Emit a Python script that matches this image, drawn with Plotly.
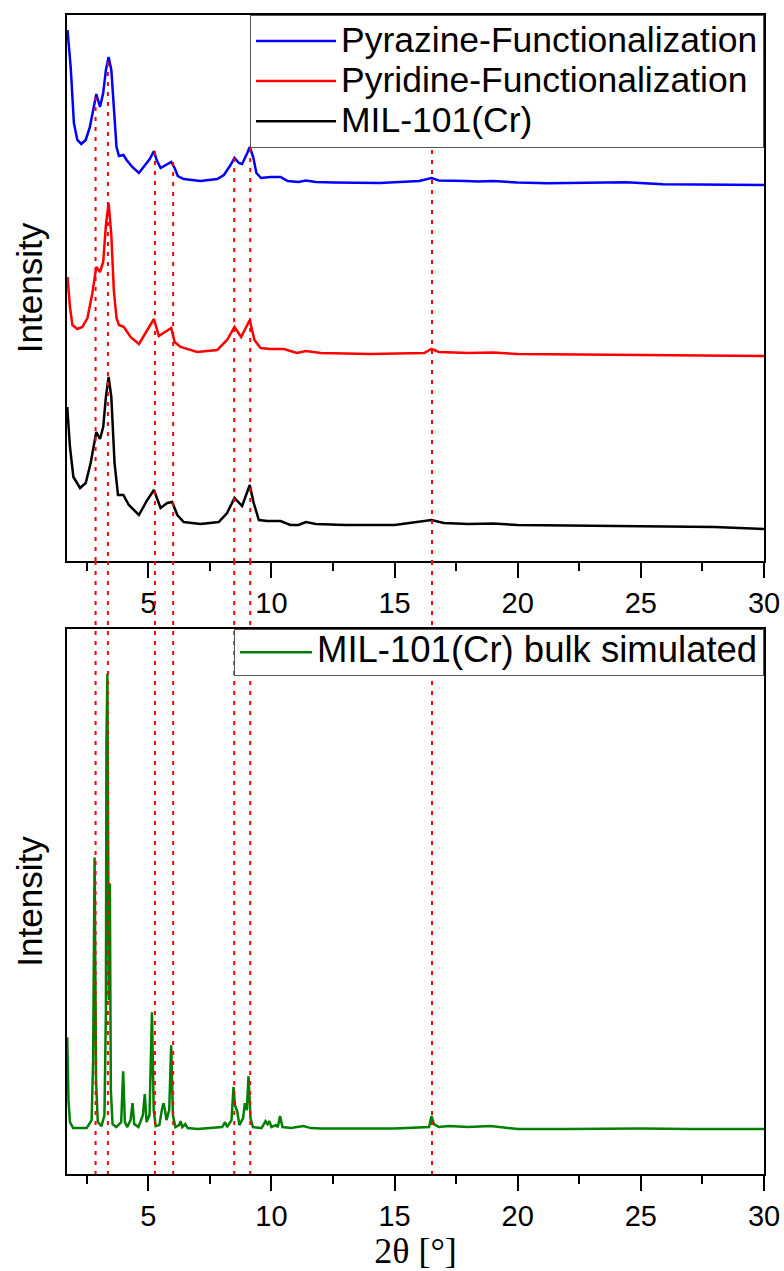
import plotly.graph_objects as go

# ---------------- data ----------------
# Top panel: measured patterns (intensity in arbitrary units)
tt_pyrazine = [1.72, 1.85, 1.98, 2.12, 2.28, 2.46, 2.63, 2.77, 2.89, 3.04, 3.17, 3.28, 3.39, 3.50,
               3.60, 3.71, 3.81, 3.99, 4.12, 4.35, 4.62, 4.82, 5.06, 5.23, 5.34, 5.50, 5.70, 5.93,
               6.07, 6.20, 6.44, 7.12, 7.80, 8.07, 8.34, 8.50, 8.68, 8.81, 9.02, 9.12, 9.26, 9.39,
               9.58, 9.96, 10.37, 10.66, 11.10, 11.40, 11.80, 12.50, 14.40, 16.00, 16.50, 16.80,
               17.90, 18.40, 19.00, 20.00, 21.20, 24.40, 25.90, 28.00, 30.00]
int_pyrazine = [531, 494, 438, 421, 417, 421, 434, 454, 467, 454, 468, 491, 504, 491,
                451, 414, 405, 406, 401, 394, 388, 394, 402, 410, 401, 393, 396, 399,
                393, 385, 382, 380, 382, 386, 396, 403, 398, 397, 408, 414, 404, 388,
                383, 384, 384, 380, 379, 380.5, 379, 378.5, 378, 380, 383, 380.5,
                380, 379.5, 380, 378.5, 377.7, 378.7, 376.7, 376.5, 376]

tt_pyridine = [1.72, 1.82, 1.92, 2.12, 2.32, 2.53, 2.73, 2.89, 3.04, 3.17, 3.28, 3.39, 3.50,
               3.60, 3.71, 3.81, 4.01, 4.28, 4.62, 4.96, 5.23, 5.43, 5.70, 5.93, 6.07, 6.31,
               6.99, 7.80, 8.20, 8.50, 8.77, 9.12, 9.31, 9.56, 9.96, 10.50, 11.04, 11.40,
               12.00, 14.00, 16.20, 16.50, 16.80, 18.00, 19.00, 20.00, 25.00, 30.00]
int_pyridine = [284, 254, 236, 232, 234, 243, 268, 294, 289, 299, 336, 358, 326,
                271, 243, 236, 234, 224, 217, 231, 242, 225, 229, 233, 219, 214,
                209, 211, 221, 234, 224, 241, 221, 213, 212, 212, 208, 210,
                208, 207, 208, 212, 209, 208, 208.5, 207, 206, 205]

tt_mil101 = [1.71, 1.82, 1.96, 2.23, 2.46, 2.66, 2.89, 3.04, 3.17, 3.28, 3.39, 3.50, 3.63,
             3.77, 3.99, 4.21, 4.62, 4.96, 5.23, 5.50, 5.77, 5.97, 6.18, 6.44, 7.12, 7.86,
             8.20, 8.50, 8.81, 9.12, 9.28, 9.49, 9.83, 10.37, 10.77, 11.10, 11.40, 11.80,
             13.00, 15.00, 16.50, 17.00, 18.00, 19.00, 20.00, 25.00, 28.00, 30.00]
int_mil101 = [154, 114, 84, 73, 78, 98, 129, 122, 134, 164, 184, 164, 98,
              66, 66, 56, 46, 61, 71, 53, 58, 59, 46, 39, 37, 39,
              48, 63, 55, 76, 58, 41, 40, 40, 36, 36, 39, 37,
              36, 36, 41, 38, 37, 37.5, 36, 35, 34, 32]

# Bottom panel: simulated bulk pattern
tt_simulated = [1.71, 1.76, 1.82, 1.95, 2.50, 2.70, 2.76, 2.82, 2.88, 2.95, 3.10, 3.22, 3.28,
                3.30, 3.34, 3.38, 3.40, 3.44, 3.48, 3.55, 3.70, 3.90, 3.98, 4.05, 4.15,
                4.28, 4.36, 4.43, 4.60, 4.78, 4.86, 4.93, 5.05, 5.15, 5.22, 5.30, 5.45,
                5.55, 5.62, 5.68, 5.74, 5.85, 5.93, 6.00, 6.10, 6.25, 6.31, 6.38, 6.50,
                6.60, 7.00, 7.50, 8.00, 8.12, 8.20, 8.38, 8.46, 8.52, 8.61, 8.70, 8.85,
                8.92, 9.00, 9.07, 9.15, 9.25, 9.60, 9.76, 9.84, 9.92, 10.00, 10.18, 10.26,
                10.35, 10.45, 10.80, 11.30, 11.60, 12.00, 13.00, 15.00, 16.40, 16.50, 16.60,
                16.80, 17.20, 18.00, 18.90, 19.50, 20.00, 22.00, 24.00, 25.00, 27.00, 30.00]
int_simulated = [137, 74, 52, 46, 46, 54, 114, 317, 94, 52, 48, 59, 164,
                 432, 501, 304, 174, 291, 84, 50, 47, 52, 103, 52, 47,
                 54, 71, 50, 47, 59, 80, 52, 59, 162, 64, 48, 49,
                 64, 71, 64, 54, 64, 129, 59, 47, 49, 53, 47, 50,
                 46, 45, 46, 47, 52, 47, 54, 87, 69, 63, 49, 56,
                 71, 64, 98, 56, 47, 46, 53, 50, 53, 47, 49, 47,
                 58, 47, 46, 48, 46, 45.5, 45.5, 45.5, 47, 58, 50,
                 47, 48, 47, 48, 46, 45, 45, 45.5, 45.5, 45, 45]

# Reference reflections marked by the dotted guide lines
guide_positions = [2.86, 3.36, 5.27, 6.01, 8.49, 9.14, 16.52]
guide_tops = [464, 499, 410, 399, 403, 413, 411]   # where each guide starts (top panel units)

x_ticks = [5, 10, 15, 20, 25, 30]

series_names = ["Pyrazine-Functionalization", "Pyridine-Functionalization", "MIL-101(Cr)"]
simulated_name = "MIL-101(Cr) bulk simulated"

# ---------------- figure ----------------
SANS = "Liberation Sans, Arial, sans-serif"
SERIF = "Liberation Serif, Times New Roman, serif"
TOP_DOMAIN = [0.5289, 1.0]
BOT_DOMAIN = [0.0, 0.4702]


def legend_label(text, size):
    # glyphs larger than the legend row pitch (which follows legend.font.size)
    return '<span style="font-size:%spx">%s</span>' % (size, text)


fig = go.Figure()
for xs, ys, name, color in [(tt_pyrazine, int_pyrazine, series_names[0], "#0000ff"),
                            (tt_pyridine, int_pyridine, series_names[1], "#ff0000"),
                            (tt_mil101, int_mil101, series_names[2], "#000000")]:
    fig.add_trace(go.Scatter(x=xs, y=ys, mode="lines", name=legend_label(name, 35.5),
                             line=dict(color=color, width=2.5), xaxis="x", yaxis="y", legend="legend"))
fig.add_trace(go.Scatter(x=tt_simulated, y=int_simulated, mode="lines",
                         name=legend_label(simulated_name, 36.5),
                         line=dict(color="#008000", width=2.5), xaxis="x2", yaxis="y2", legend="legend2"))

guide_line = dict(color="#ff0000", width=2, dash="4px,6px")
shapes = []
for xp, top in zip(guide_positions, guide_tops):
    shapes.append(dict(type="line", xref="x", yref="y", x0=xp, x1=xp, y0=top, y1=0, line=guide_line))
    shapes.append(dict(type="line", xref="x2", yref="paper", x0=xp, x1=xp,
                       y0=TOP_DOMAIN[0], y1=BOT_DOMAIN[0], line=guide_line))

xaxis_common = dict(range=[1.7, 30], tickvals=x_ticks, ticks="outside", ticklen=15, tickwidth=2,
                    tickcolor="black", showline=True, linecolor="black", linewidth=2, mirror=True,
                    showgrid=False, zeroline=False, automargin=False,
                    tickfont=dict(family=SANS, size=29, color="black"),
                    minor=dict(dtick=2.5, tick0=0, ticks="outside", ticklen=8, tickwidth=2,
                               tickcolor="black", showgrid=False))
yaxis_common = dict(range=[0, 546], showticklabels=False, ticks="", showline=True, linecolor="black",
                    linewidth=2, mirror=True, showgrid=False, zeroline=False, automargin=False,
                    title=dict(text="Intensity", font=dict(family=SANS, size=35, color="black"), standoff=12))

legend_common = dict(xref="paper", yref="paper", x=1, xanchor="right", yanchor="top",
                     bgcolor="white", bordercolor="#555555", borderwidth=1, tracegroupgap=0)

fig.update_layout(
    width=784, height=1271,
    margin=dict(l=67, r=20, t=15, b=97),
    paper_bgcolor="white", plot_bgcolor="white",
    showlegend=True,
    xaxis=dict(domain=[0, 1], anchor="y", **xaxis_common),
    yaxis=dict(domain=TOP_DOMAIN, anchor="x", **yaxis_common),
    xaxis2=dict(domain=[0, 1], anchor="y2", matches="x",
                title=dict(text="2θ [°]", font=dict(family=SERIF, size=36, color="black"), standoff=12),
                **xaxis_common),
    yaxis2=dict(domain=BOT_DOMAIN, anchor="x2", **yaxis_common),
    legend=dict(y=TOP_DOMAIN[1], font=dict(family=SANS, size=28.5, color="black"),
                itemwidth=80, **legend_common),
    legend2=dict(y=BOT_DOMAIN[1], font=dict(family=SANS, size=24, color="black"),
                 itemwidth=72, **legend_common),
    shapes=shapes,
)

fig.write_html("out.html")
